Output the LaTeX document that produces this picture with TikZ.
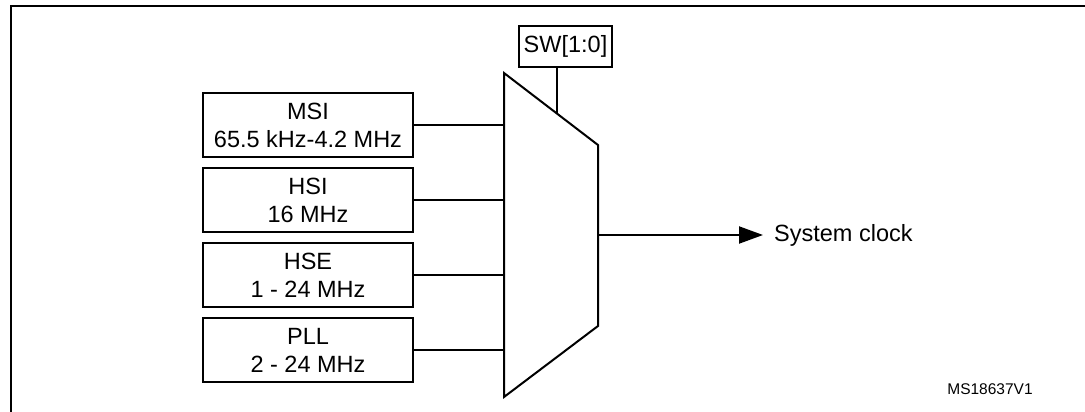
\documentclass[tikz,border=0pt]{standalone}
\usepackage{fontspec}
\setmainfont{Liberation Sans}
\usepackage{tikz}
\usetikzlibrary{arrows.meta,positioning,calc}
\tikzset{
  srcbox/.style={draw, line width=2pt, align=center,
                 minimum width=210pt, minimum height=64pt, inner sep=0pt,
                 font=\fontsize{23.5}{28}\selectfont},
  selbox/.style={draw, line width=2pt, minimum width=93pt,
                 minimum height=41pt, inner sep=0pt,
                 font=\fontsize{23.5}{28}\selectfont},
  wire/.style  ={line width=2pt},
  arr/.style   ={wire, -{Triangle[length=24pt, width=17pt]}},
}

\begin{document}
\begin{tikzpicture}[x=1pt, y=-1pt, node distance=9pt]
  \useasboundingbox (0,0) rectangle (1085,412);
  % frame
  \draw[wire] (1085,6) -- (11,6) -- (11,412);

  % clock sources
  \node[srcbox] (msi) at (308,125) {MSI\\65.5 kHz-4.2 MHz};
  \node[srcbox, below=of msi] (hsi) {HSI\\16 MHz};
  \node[srcbox, below=of hsi] (hse) {HSE\\1 - 24 MHz};
  \node[srcbox, below=of hse] (pll) {PLL\\2 - 24 MHz};

  % multiplexer
  \coordinate (muxtl) at (504,73);
  \coordinate (muxtr) at (598,145);
  \coordinate (muxbr) at (598,326);
  \coordinate (muxbl) at (504,397);
  \draw[wire, line join=miter] (muxtl) -- (muxtr) -- (muxbr) -- (muxbl) -- cycle;
  \coordinate (swin) at ($(muxtl)!0.564!(muxtr)$);
  \coordinate (muxout) at (598,235);

  \node[selbox] (sw) at (565.5,46.5) {SW[1:0]};
  \node[anchor=west, inner xsep=11pt, inner ysep=0pt,
        font=\fontsize{23.5}{28}\selectfont] (clk) at (763,235) {System clock};
  \node[font=\fontsize{15.5}{18}\selectfont] (ref) at (990,389) {MS18637V1};

  \draw[wire] (msi.east) -- (msi.east -| muxtl);
  \draw[wire] (hsi.east) -- (hsi.east -| muxtl);
  \draw[wire] (hse.east) -- (hse.east -| muxtl);
  \draw[wire] (pll.east) -- (pll.east -| muxtl);
  \draw[wire] (sw.south -| swin) -- (swin);
  \draw[arr] (muxout) -- (clk.west);
\end{tikzpicture}
\end{document}
